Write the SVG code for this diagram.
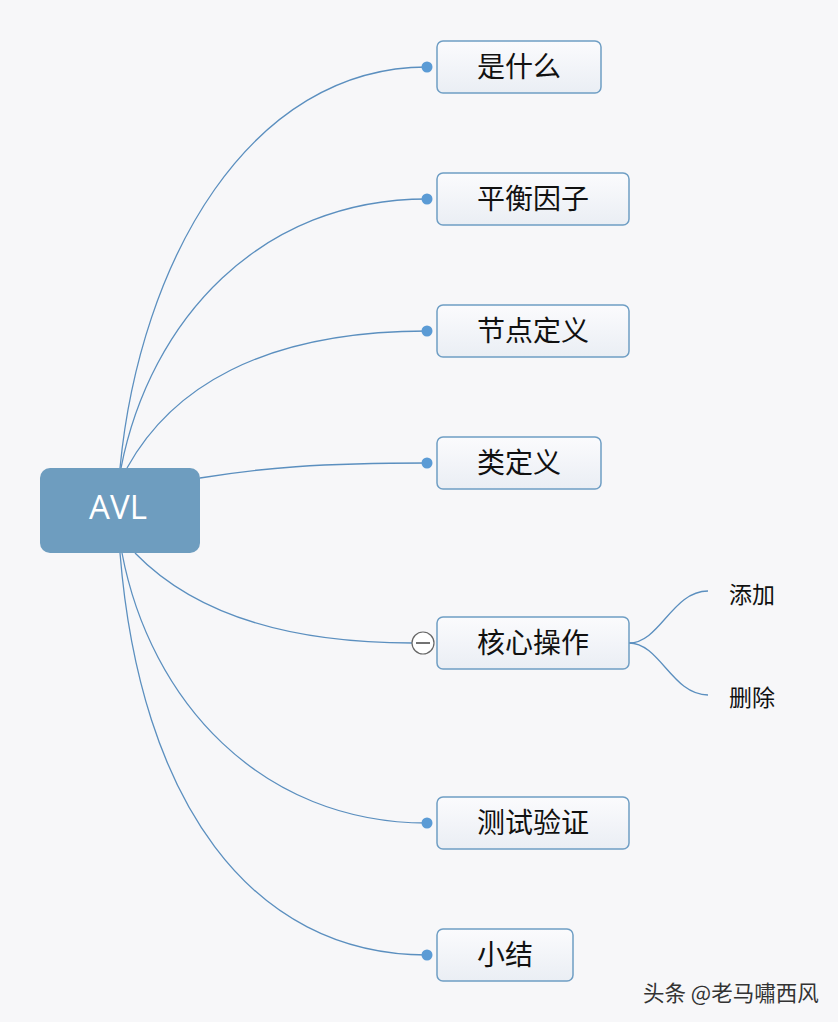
<svg xmlns="http://www.w3.org/2000/svg" width="838" height="1022" viewBox="0 0 838 1022">
<defs>
<linearGradient id="nodeFill" x1="0" y1="0" x2="0" y2="1">
<stop offset="0" stop-color="#fbfbfd"/>
<stop offset="1" stop-color="#eaeef4"/>
</linearGradient>
<style>
.bg{fill:#f7f7f9}
.node{fill:url(#nodeFill);stroke:#6f9ec4;stroke-width:1.5}
.label{font-family:"Noto Sans CJK SC","Liberation Sans",sans-serif;font-size:28px;fill:#111;text-anchor:middle}
.sub{font-family:"Noto Sans CJK SC","Liberation Sans",sans-serif;font-size:23px;fill:#111}
.edge{fill:none;stroke:#5b8fbf;stroke-width:1.3}
.dot{fill:#5b9bd5}
</style>
</defs>
<rect class="bg" x="0" y="0" width="838" height="1022"/>
<g id="connectors">
<path class="edge" d="M120,468 C140,260 250,67 427,67"/>
<path class="edge" d="M121,468 C150,320 260,199 427,199"/>
<path class="edge" d="M127,468 C170,390 260,331 427,331"/>
<path class="edge" d="M200,478 C260,468 320,463 427,463"/>
<path class="edge" d="M135,553 C200,620 300,643 412,643"/>
<path class="edge" d="M122,553 C150,700 260,823 427,823"/>
<path class="edge" d="M120,553 C140,800 250,955 427,955"/>
<path class="edge" d="M629,643 C660,643 672,591 708,591"/>
<path class="edge" d="M629,643 C660,643 672,695 708,695"/>
<circle class="dot" cx="427" cy="67" r="5.5"/>
<circle class="dot" cx="427" cy="199" r="5.5"/>
<circle class="dot" cx="427" cy="331" r="5.5"/>
<circle class="dot" cx="427" cy="463" r="5.5"/>
<circle class="dot" cx="427" cy="823" r="5.5"/>
<circle class="dot" cx="427" cy="955" r="5.5"/>
<circle cx="423" cy="643" r="11" fill="#fff" stroke="#666" stroke-width="1.2"/>
<line x1="416" y1="643" x2="430" y2="643" stroke="#444" stroke-width="1.5"/>
</g>
<g id="root">
<rect x="40" y="468" width="160" height="85" rx="10" fill="#6e9dbf"/>
<text x="118" y="519" font-family="Open Sans, Liberation Sans, sans-serif" font-size="33" fill="#fff" text-anchor="middle">AVL</text>
</g>
<g id="n1"><rect class="node" x="437" y="41" width="164" height="52" rx="6"/><text class="label" x="519" y="77">是什么</text></g>
<g id="n2"><rect class="node" x="437" y="173" width="192" height="52" rx="6"/><text class="label" x="533" y="209">平衡因子</text></g>
<g id="n3"><rect class="node" x="437" y="305" width="192" height="52" rx="6"/><text class="label" x="533" y="341">节点定义</text></g>
<g id="n4"><rect class="node" x="437" y="437" width="164" height="52" rx="6"/><text class="label" x="519" y="473">类定义</text></g>
<g id="n5"><rect class="node" x="437" y="617" width="192" height="52" rx="6"/><text class="label" x="533" y="653">核心操作</text></g>
<g id="n6"><rect class="node" x="437" y="797" width="192" height="52" rx="6"/><text class="label" x="533" y="833">测试验证</text></g>
<g id="n7"><rect class="node" x="437" y="929" width="136" height="52" rx="6"/><text class="label" x="505" y="965">小结</text></g>
<g id="n5a"><text class="sub" x="729" y="603">添加</text></g>
<g id="n5b"><text class="sub" x="729" y="706">删除</text></g>
<g id="watermark"><text x="643" y="1001" font-family="Noto Sans CJK SC, Liberation Sans, sans-serif" font-size="21.5" fill="#333">头条 @老马嘯西风</text></g>
</svg>
